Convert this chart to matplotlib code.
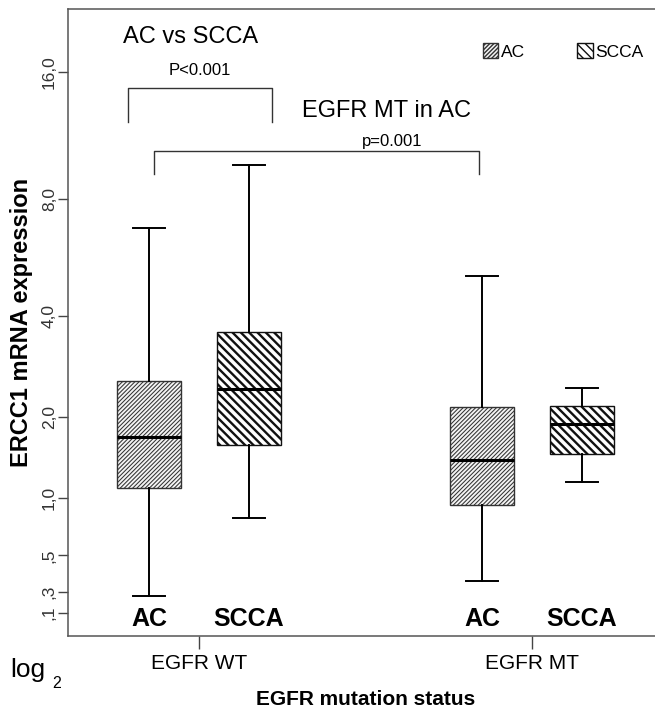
import numpy as np
import matplotlib
matplotlib.use('Agg')
import matplotlib.pyplot as plt
import matplotlib.patches as mpatches

plt.rcParams['font.family'] = ['Liberation Sans', 'DejaVu Sans']

# ERCC1 mRNA expression (EGFR WT, EGFR MT)
groups = ['EGFR WT', 'EGFR MT']
hist_names = ['AC', 'SCCA']
ac_whislo = [0.22, 0.32]
ac_q1 = [1.10, 0.93]
ac_med = [1.72, 1.42]
ac_q3 = [2.60, 2.16]
ac_whishi = [6.76, 5.10]
scca_whislo = [0.81, 1.17]
scca_q1 = [1.61, 1.50]
scca_med = [2.46, 1.90]
scca_q3 = [3.60, 2.18]
scca_whishi = [9.65, 2.48]

ytick_vals = [16, 8, 4, 2, 1, 0.5, 0.25, 0.125]
ytick_labels = ['16,0', '8,0', '4,0', '2,0', '1,0', ',5', ',3', ',1']


def fwd(x):
    x = np.asarray(x, dtype=float)
    return np.log2(np.clip(x, -0.999, None) + 1)


def inv(t):
    return 2.0 ** np.asarray(t, dtype=float) - 1


def make_stats(lo, q1, med, q3, hi):
    return [dict(whislo=a, q1=b, med=c, q3=d, whishi=e, fliers=[])
            for a, b, c, d, e in zip(lo, q1, med, q3, hi)]


fig = plt.figure(figsize=(6.55, 7.09), dpi=100)
ax = fig.add_axes([68 / 655, 1 - 636 / 709, 595 / 655, 627 / 709])
ax.set_yscale('function', functions=(fwd, inv))

pos = np.arange(len(groups))
offset = 0.15
styles = {
    'AC': dict(face='#f4f4f4', edge='#333333', hatch='/' * 8, hlw=0.75),
    'SCCA': dict(face='white', edge='#111111', hatch='\\' * 4, hlw=1.7),
}
stats = {
    'AC': make_stats(ac_whislo, ac_q1, ac_med, ac_q3, ac_whishi),
    'SCCA': make_stats(scca_whislo, scca_q1, scca_med, scca_q3, scca_whishi),
}

handles = []
for i, name in enumerate(hist_names):
    st = styles[name]
    with plt.rc_context({'hatch.linewidth': st['hlw'], 'hatch.color': st['edge']}):
        bp = ax.bxp(stats[name], positions=pos + (i * 2 - 1) * offset,
                    widths=0.19, capwidths=0.095, patch_artist=True,
                    showfliers=False, manage_ticks=False,
                    boxprops=dict(facecolor=st['face'], edgecolor=st['edge'],
                                  hatch=st['hatch'], linewidth=1.0),
                    medianprops=dict(color='black', linewidth=2.2),
                    whiskerprops=dict(color='black', linewidth=1.4),
                    capprops=dict(color='black', linewidth=1.4))
        h = mpatches.Patch(facecolor=st['face'], edgecolor=st['edge'],
                           hatch=st['hatch'], linewidth=1.0)
    for p in bp['boxes'] + [h]:
        if hasattr(p, 'set_hatch_linewidth'):
            p.set_hatch_linewidth(st['hlw'])
    handles.append(h)
    for x in pos + (i * 2 - 1) * offset:
        ax.text(x, 0.016, name, transform=ax.get_xaxis_transform(),
                ha='center', va='baseline', fontsize=18, fontweight='bold')

ax.set_xlim(-0.393, 1.393)
ax.set_ylim(0, inv(4.543))
ax.set_xticks(pos)
ax.set_xticklabels(groups, fontsize=15)
ax.set_yticks(ytick_vals)
ax.set_yticklabels(ytick_labels, fontsize=12.5, color='#333333')
ax.yaxis.set_minor_locator(matplotlib.ticker.NullLocator())
ax.tick_params(axis='y', labelrotation=90, length=7, width=1.0, pad=1,
               color='#444444')
ax.tick_params(axis='x', length=9, width=1.0, pad=4, color='#444444')
for lab in ax.get_yticklabels():
    lab.set_va('center')

for s in ax.spines.values():
    s.set_color('#555555')
    s.set_linewidth(1.1)

ax.set_ylabel('ERCC1 mRNA expression', fontsize=17, fontweight='bold')
ax.yaxis.set_label_coords(-0.058, 0.5)
ax.set_xlabel('EGFR mutation status', fontsize=15, fontweight='bold')
ax.xaxis.set_label_coords(0.5, -0.086)

# significance brackets
ax.plot([-0.213, -0.213, 0.219, 0.219], [12.2, 14.7, 14.7, 12.2],
        color='#333333', linewidth=1.0)
ax.plot([-0.135, -0.135, 0.841, 0.841], [9.2, 10.4, 10.4, 9.2],
        color='#333333', linewidth=1.0)
ax.text(0.0924, 0.946, 'AC vs SCCA', transform=ax.transAxes,
        fontsize=17, va='baseline')
ax.text(0.222, 0.895, 'P<0.001', transform=ax.transAxes,
        fontsize=12, ha='center', va='baseline')
ax.text(0.393, 0.828, 'EGFR MT in AC', transform=ax.transAxes,
        fontsize=17, va='baseline')
ax.text(0.545, 0.782, 'p=0.001', transform=ax.transAxes,
        fontsize=12, ha='center', va='baseline')

ax.legend(handles, hist_names, loc='upper left', bbox_to_anchor=(0.697, 0.945),
          ncol=2, frameon=False, fontsize=12.5, handlelength=0.9,
          handleheight=0.9, handletextpad=0.15, columnspacing=3.0,
          borderpad=0, borderaxespad=0)

fig.text(10 / 655, 1 - 677 / 709, 'log', fontsize=19, va='baseline')
fig.text(52 / 655, 1 - 688 / 709, '2', fontsize=11.5, va='baseline')

fig.savefig('out.png', dpi=100)
